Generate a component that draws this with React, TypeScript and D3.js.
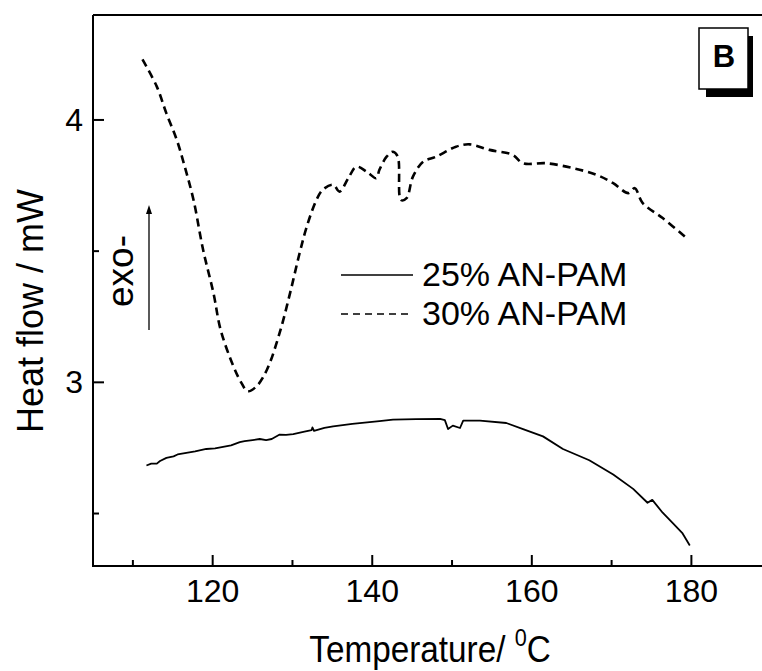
import React from "react";
import * as d3 from "d3";

const temps25 = [111.7, 112.3, 113.0, 113.4, 114.2, 115.1, 115.6, 116.7, 117.8, 119.2, 120.3, 121.3, 122.3, 123.4, 124.0, 125.0, 125.9, 126.7, 127.4, 128.4, 129.2, 130.1, 131.5, 132.4, 132.5, 132.7, 134.0, 135.1, 137.5, 140.9, 142.6, 145.5, 148.5, 149.1, 149.5, 150.1, 151.0, 151.4, 153.5, 156.8, 158.9, 161.4, 163.9, 167.2, 170.2, 172.7, 174.5, 175.1, 176.4, 177.7, 178.9, 179.8];
const heat25 = [2.683, 2.690, 2.690, 2.700, 2.712, 2.718, 2.725, 2.731, 2.737, 2.746, 2.748, 2.754, 2.760, 2.772, 2.776, 2.780, 2.784, 2.780, 2.784, 2.801, 2.800, 2.803, 2.812, 2.818, 2.828, 2.815, 2.826, 2.832, 2.842, 2.852, 2.858, 2.860, 2.861, 2.856, 2.822, 2.835, 2.826, 2.854, 2.854, 2.845, 2.822, 2.794, 2.746, 2.703, 2.649, 2.594, 2.541, 2.552, 2.503, 2.462, 2.424, 2.378];

const temps30 = [111.2, 113.0, 114.2, 115.5, 116.5, 117.6, 118.8, 120.1, 121.0, 122.6, 123.6, 124.4, 125.5, 126.8, 128.4, 129.7, 130.9, 131.8, 133.0, 133.8, 135.1, 135.9, 137.0, 138.0, 139.3, 140.5, 140.9, 141.8, 142.6, 143.2, 143.6, 144.3, 145.1, 146.4, 148.0, 150.5, 152.2, 154.7, 157.6, 158.9, 161.8, 165.2, 168.1, 170.2, 172.1, 172.9, 173.9, 176.4, 179.4];
const heat30 = [4.231, 4.127, 4.025, 3.924, 3.822, 3.695, 3.505, 3.340, 3.200, 3.061, 2.998, 2.966, 2.985, 3.048, 3.189, 3.340, 3.493, 3.594, 3.695, 3.734, 3.753, 3.727, 3.778, 3.822, 3.803, 3.778, 3.810, 3.860, 3.879, 3.860, 3.695, 3.702, 3.784, 3.841, 3.860, 3.898, 3.907, 3.886, 3.867, 3.835, 3.835, 3.816, 3.791, 3.759, 3.721, 3.740, 3.683, 3.626, 3.550];

const xMajorTicks = [120, 140, 160, 180];
const xMinorTicks = [110, 130, 150, 170];
const yMajorTicks = [3, 4];
const yMinorTicks = [2.5, 3.5];
const legendLabels = ["25% AN-PAM", "30% AN-PAM"];

const W = 762;
const H = 671;
const FONT = "'Liberation Sans', Arial, Helvetica, sans-serif";

export default function App() {
  const x = d3.scaleLinear().domain([105, 188.85]).range([93, 762]);
  const y = d3.scaleLinear().domain([2.3, 4.4]).range([566, 15]);

  const solid = d3
    .line<number>()
    .x((_, i) => x(temps25[i]))
    .y((d) => y(d))(heat25) as string;

  const dashed = d3
    .line<number>()
    .x((_, i) => x(temps30[i]))
    .y((d) => y(d))
    .curve(d3.curveCatmullRom.alpha(0.5))(heat30) as string;

  const x0 = 93;
  const yBottom = 566;
  const yTop = 15;

  return (
    <svg
      width={W}
      height={H}
      style={{ position: "absolute", left: 0, top: 0, background: "#fff" }}
      fontFamily={FONT}
    >
      <rect x={0} y={0} width={W} height={H} fill="#fff" />
      {/* frame */}
      <line x1={x0} x2={W} y1={yTop} y2={yTop} stroke="#000" strokeWidth={2} />
      <line x1={x0} x2={W} y1={yBottom} y2={yBottom} stroke="#000" strokeWidth={2} />
      <line x1={x0} x2={x0} y1={yTop} y2={yBottom + 1} stroke="#000" strokeWidth={2} />

      {/* x ticks */}
      {xMajorTicks.map((t) => (
        <g key={"xm" + t}>
          <line x1={x(t)} x2={x(t)} y1={yBottom} y2={yBottom - 11} stroke="#000" strokeWidth={2} />
          <text x={x(t)} y={602} textAnchor="middle" fontSize={32} fill="#000">
            {t}
          </text>
        </g>
      ))}
      {xMinorTicks.map((t) => (
        <line key={"xn" + t} x1={x(t)} x2={x(t)} y1={yBottom} y2={yBottom - 6} stroke="#000" strokeWidth={2} />
      ))}

      {/* y ticks */}
      {yMajorTicks.map((t) => (
        <g key={"ym" + t}>
          <line x1={x0} x2={x0 + 11} y1={y(t)} y2={y(t)} stroke="#000" strokeWidth={2} />
          <text x={83} y={y(t) + 11} textAnchor="end" fontSize={32} fill="#000">
            {t}
          </text>
        </g>
      ))}
      {yMinorTicks.map((t) => (
        <line key={"yn" + t} x1={x0} x2={x0 + 6} y1={y(t)} y2={y(t)} stroke="#000" strokeWidth={2} />
      ))}

      {/* axis titles */}
      <text
        transform={`translate(430,662) scale(0.9,1)`}
        textAnchor="middle"
        fontSize={37}
        fill="#000"
      >
        Temperature/ <tspan fontSize={24} dy={-16}>0</tspan>
        <tspan dy={16}>C</tspan>
      </text>
      <text
        transform={`translate(43,311) rotate(-90)`}
        textAnchor="middle"
        fontSize={36}
        fill="#000"
      >
        Heat flow / mW
      </text>

      {/* exo arrow */}
      <text transform={`translate(133,271) rotate(-90)`} textAnchor="middle" fontSize={37} fill="#000">
        exo-
      </text>
      <line x1={149} x2={149} y1={330} y2={212} stroke="#000" strokeWidth={1.3} />
      <path d="M149,205 L146,214 L152,214 Z" fill="#000" />

      {/* curves */}
      <path d={solid} fill="none" stroke="#000" strokeWidth={1.8} strokeLinejoin="round" />
      <path d={dashed} fill="none" stroke="#000" strokeWidth={2.6} strokeDasharray="8,5" />

      {/* legend */}
      <line x1={341} x2={413} y1={275} y2={275} stroke="#000" strokeWidth={1.5} />
      <text x={422} y={286} fontSize={34} fill="#000">
        {legendLabels[0]}
      </text>
      <line x1={341} x2={413} y1={314} y2={314} stroke="#000" strokeWidth={1.5} strokeDasharray="7,5" />
      <text x={422} y={325} fontSize={34} fill="#000">
        {legendLabels[1]}
      </text>

      {/* B label */}
      <rect x={706} y={36} width={47} height={61} fill="#000" />
      <rect x={699} y={28} width={49} height={61} fill="#fff" stroke="#000" strokeWidth={1.5} />
      <text x={724} y={67} textAnchor="middle" fontSize={31} fontWeight="bold" fill="#000">
        B
      </text>
    </svg>
  );
}
